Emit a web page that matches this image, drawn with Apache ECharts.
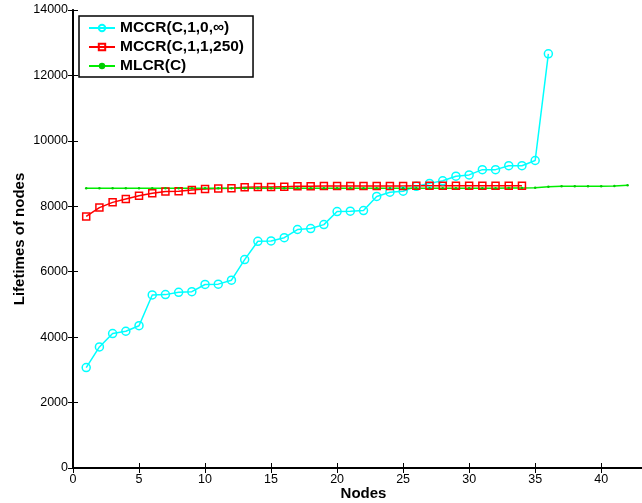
<!DOCTYPE html>
<html>
<head>
<meta charset="utf-8">
<script src="https://cdn.jsdelivr.net/npm/echarts@6/dist/echarts.min.js"></script>
<style>html,body{margin:0;padding:0;background:#fff;}#c{width:642px;height:503px;}</style>
</head>
<body>
<div id="c"></div>
<script>
const seriesNames = ['MCCR(C,1,0,\u221E)', 'MCCR(C,1,1,250)', 'MLCR(C)'];
const mccr0 = [3070, 3700, 4110, 4180, 4350, 5290, 5300, 5370, 5390, 5610, 5620, 5740, 6370, 6930, 6940, 7040, 7290, 7320, 7440, 7840, 7850, 7870, 8300, 8430, 8460, 8610, 8700, 8780, 8920, 8960, 9120, 9120, 9240, 9240, 9400, 12660];
const mccr1 = [7690, 7960, 8120, 8220, 8320, 8400, 8450, 8460, 8500, 8530, 8540, 8550, 8580, 8590, 8590, 8600, 8610, 8615, 8620, 8620, 8620, 8620, 8620, 8620, 8620, 8625, 8625, 8625, 8625, 8625, 8625, 8625, 8625, 8625];
const mlcr = [8550, 8550, 8550, 8550, 8550, 8550, 8550, 8550, 8550, 8550, 8550, 8550, 8550, 8550, 8550, 8550, 8550, 8550, 8550, 8550, 8550, 8550, 8550, 8550, 8555, 8555, 8555, 8555, 8555, 8555, 8555, 8555, 8560, 8560, 8565, 8600, 8610, 8615, 8615, 8615, 8620, 8640];
const yTicks = [0, 2000, 4000, 6000, 8000, 10000, 12000, 14000];
const xTicks = [0, 5, 10, 15, 20, 25, 30, 35, 40];

const toPairs = arr => arr.map((v, i) => [i + 1, v]);
const FONT = 'Liberation Sans, Arial, Helvetica, sans-serif';

const chart = echarts.init(document.getElementById('c'), null, {renderer: 'canvas'});
const axisLine = {show: true, onZero: false, lineStyle: {color: '#000', width: 2}};
const tick = {show: true, inside: true, length: 5, lineStyle: {color: '#000', width: 1}};
chart.setOption({
  animation: false,
  backgroundColor: '#fff',
  grid: {left: 73, right: -12, top: 10, bottom: 35, containLabel: false, outerBoundsMode: 'none'},
  legend: {
    orient: 'vertical', left: 79, top: 16,
    data: seriesNames,
    backgroundColor: '#fff', borderColor: '#000', borderWidth: 1.5,
    padding: [4, 9, 3, 9], itemGap: 3, itemWidth: 26, itemHeight: 8,
    textStyle: {fontFamily: FONT, fontWeight: 'bold', fontSize: 15.5, color: '#000', lineHeight: 16}
  },
  xAxis: [{
    type: 'value', min: 0, max: 44, interval: 5,
    name: 'Nodes', nameLocation: 'middle', nameGap: 18, nameMoveOverlap: false,
    nameTextStyle: {fontFamily: FONT, fontWeight: 'bold', fontSize: 15, color: '#000'},
    axisLine: axisLine, axisTick: tick, splitLine: {show: false},
    axisLabel: {fontFamily: FONT, fontSize: 12.5, color: '#000', margin: 5,
      formatter: v => xTicks.indexOf(v) >= 0 ? String(v) : ''}
  }, {
    type: 'value', position: 'top', min: 0, max: 44, interval: 5,
    axisLine: {show: true, lineStyle: {color: '#000', width: 1.5}}, axisTick: tick,
    axisLabel: {show: false}, splitLine: {show: false}
  }],
  yAxis: [{
    type: 'value', min: 0, max: 14000, interval: 2000,
    name: 'Lifetimes of nodes', nameLocation: 'middle', nameGap: 46, nameMoveOverlap: false,
    nameTextStyle: {fontFamily: FONT, fontWeight: 'bold', fontSize: 15, color: '#000'},
    axisLine: axisLine, axisTick: tick, splitLine: {show: false},
    axisLabel: {fontFamily: FONT, fontSize: 12.5, color: '#000', margin: 5,
      formatter: v => yTicks.indexOf(v) >= 0 ? String(v) : ''}
  }, {
    type: 'value', position: 'right', min: 0, max: 14000, interval: 2000,
    axisLine: {show: true, lineStyle: {color: '#000', width: 1.5}}, axisTick: tick,
    axisLabel: {show: false}, splitLine: {show: false}
  }],
  series: [{
    name: seriesNames[0], type: 'line', data: toPairs(mccr0),
    symbol: 'circle', symbolSize: 8,
    lineStyle: {color: '#00ffff', width: 1.5},
    itemStyle: {color: 'rgba(255,255,255,0)', borderColor: '#00ffff', borderWidth: 1.5}
  }, {
    name: seriesNames[1], type: 'line', data: toPairs(mccr1),
    symbol: 'rect', symbolSize: 7,
    lineStyle: {color: '#ff0000', width: 1.5},
    itemStyle: {color: 'rgba(255,255,255,0)', borderColor: '#ff0000', borderWidth: 1.5}
  }, {
    name: seriesNames[2], type: 'line', data: toPairs(mlcr),
    symbol: 'circle', symbolSize: 2.5,
    lineStyle: {color: '#00ee00', width: 1.5},
    itemStyle: {color: '#00cc00', borderWidth: 0}
  }]
});
</script>
</body>
</html>
